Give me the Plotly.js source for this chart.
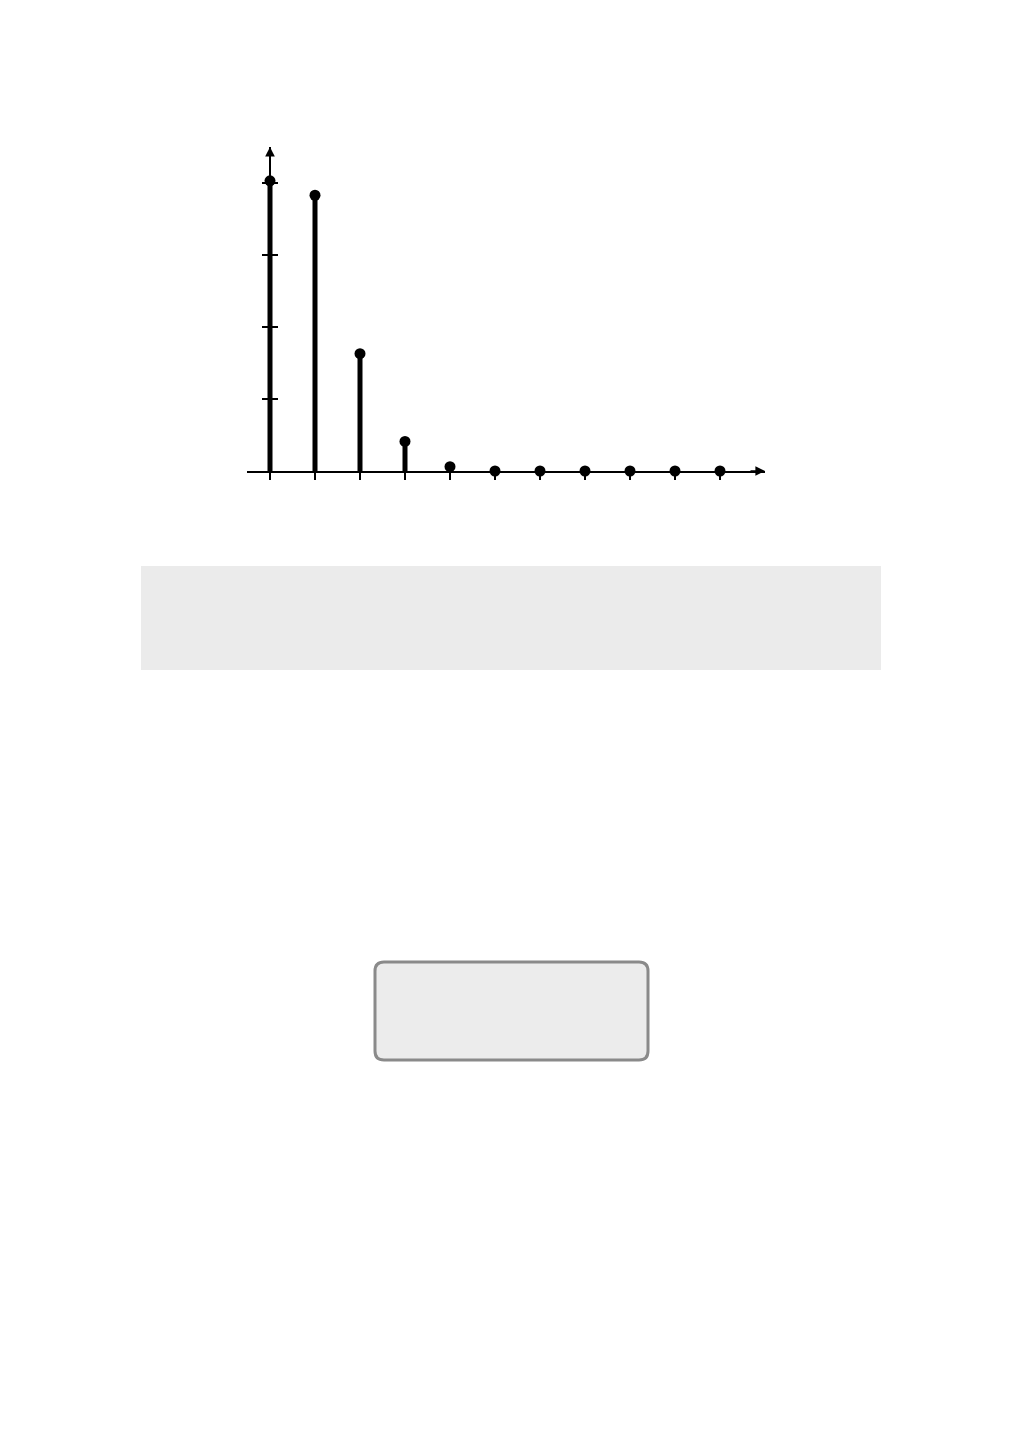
<!DOCTYPE html>
<html>
<head>
<meta charset="utf-8">
<script src="https://cdn.plot.ly/plotly-3.0.1.min.js"></script>
<style>html,body{margin:0;padding:0;background:#fff;}#chart{width:1009px;height:1441px;}</style>
</head>
<body>
<div id="chart"></div>
<script>
// Data
const categories = [0, 1, 2, 3, 4, 5, 6, 7, 8, 9, 10];
const values = [4.03, 3.83, 1.63, 0.41, 0.06, 0, 0, 0, 0, 0, 0];
const yTickValues = [0, 1, 2, 3, 4];

const W = 1009, H = 1441;
const fx = p => p / W;
const fy = p => 1 - p / H;

// stems built from the data
const stemX = [], stemY = [];
categories.forEach((c, i) => { stemX.push(c, c, null); stemY.push(0, values[i], null); });

const traces = [
  {x: stemX, y: stemY, type: 'scatter', mode: 'lines', line: {color: '#000', width: 5}, hoverinfo: 'skip', showlegend: false},
  {x: categories, y: values, type: 'scatter', mode: 'markers', marker: {color: '#000', size: 11}, showlegend: false, cliponaxis: false}
];

function roundRect(x0, y0, x1, y1, r) {
  const X0 = fx(x0), X1 = fx(x1), Y0 = fy(y0), Y1 = fy(y1);
  const rx = r / W, ry = r / H;
  return `M${X0 + rx},${Y0} L${X1 - rx},${Y0} Q${X1},${Y0} ${X1},${Y0 - ry} L${X1},${Y1 + ry} Q${X1},${Y1} ${X1 - rx},${Y1} L${X0 + rx},${Y1} Q${X0},${Y1} ${X0},${Y1 + ry} L${X0},${Y0 - ry} Q${X0},${Y0} ${X0 + rx},${Y0} Z`;
}

const xMin = (247 - 270) / 45, xMax = (765 - 270) / 45;
const yMax = (471 - 147) / 72;

const layout = {
  width: W, height: H,
  margin: {l: 0, r: 0, t: 0, b: 0},
  paper_bgcolor: '#fff', plot_bgcolor: 'rgba(0,0,0,0)',
  showlegend: false,
  xaxis: {
    domain: [fx(247), fx(765)], range: [xMin, xMax],
    showgrid: false, zeroline: false, showline: true, linecolor: '#000', linewidth: 2,
    tickvals: categories, ticks: 'outside', ticklen: 7, tickwidth: 1.2, tickcolor: '#000',
    showticklabels: false, anchor: 'y', fixedrange: true
  },
  yaxis: {
    domain: [fy(471), fy(147)], range: [0, yMax],
    showgrid: false, zeroline: false, showline: true, linecolor: '#000', linewidth: 2,
    anchor: 'free', position: fx(270),
    tickvals: yTickValues.slice(1), ticks: 'outside', ticklen: 7, tickwidth: 1.2, tickcolor: '#000',
    showticklabels: false, fixedrange: true
  },
  yaxis2: {
    overlaying: 'y', range: [0, yMax], anchor: 'free', position: fx(270),
    showgrid: false, zeroline: false, showline: false,
    tickvals: yTickValues.slice(1), ticks: 'inside', ticklen: 7, tickwidth: 1.2, tickcolor: '#000',
    showticklabels: false, fixedrange: true
  },
  annotations: [
    {x: 0, y: yMax, xref: 'x', yref: 'y', ax: 0, ay: 16, axref: 'pixel', ayref: 'pixel', text: '', showarrow: true, arrowhead: 2, arrowsize: 1.2, arrowwidth: 1.6, arrowcolor: '#000'},
    {x: xMax, y: 0, xref: 'x', yref: 'y', ax: -16, ay: 0, text: '', showarrow: true, arrowhead: 2, arrowsize: 1.2, arrowwidth: 1.6, arrowcolor: '#000'}
  ],
  shapes: [
    {type: 'rect', xref: 'paper', yref: 'paper', x0: fx(141), x1: fx(881), y0: fy(566), y1: fy(670), fillcolor: '#ebebeb', line: {width: 0}, layer: 'below'},
    {type: 'path', xref: 'paper', yref: 'paper', path: roundRect(375, 962, 648, 1060, 9), fillcolor: '#ececec', line: {color: '#8a8a8a', width: 3}, layer: 'below'}
  ]
};

// dummy trace for the overlaying axis so it is drawn
traces.push({x: [0], y: [0], yaxis: 'y2', type: 'scatter', mode: 'markers', marker: {opacity: 0}, hoverinfo: 'skip', showlegend: false});

Plotly.newPlot('chart', traces, layout, {displayModeBar: false, staticPlot: true});
</script>
</body>
</html>
